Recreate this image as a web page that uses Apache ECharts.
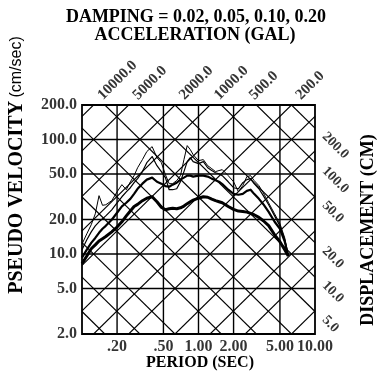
<!DOCTYPE html>
<html>
<head>
<meta charset="utf-8">
<script src="https://cdn.jsdelivr.net/npm/echarts@6/dist/echarts.min.js"></script>
<style>
  html, body { margin: 0; padding: 0; background: #fff; }
  #chart { width: 380px; height: 371px; }
</style>
</head>
<body>
<div id="chart"></div>
<script>
// periods (sec) at which the spectrum was read
const periods = [0.10, 0.11, 0.12, 0.13, 0.14, 0.15, 0.16, 0.18, 0.20, 0.22, 0.24, 0.26, 0.28, 0.30,
  0.33, 0.36, 0.40, 0.44, 0.48, 0.52, 0.56, 0.60, 0.65, 0.70, 0.75, 0.80, 0.85, 0.90,
  1.0, 1.1, 1.2, 1.3, 1.4, 1.5, 1.6, 1.8, 2.0, 2.2, 2.4, 2.6, 2.8, 3.0, 3.3, 3.6,
  4.0, 4.5, 5.0, 5.5, 5.9];
// pseudo velocity (cm/sec), one list per damping
const damp002 = [12.2, 15.0, 18.0, 22.4, 32.3, 26.6, 26.9, 29.2, 34.9, 40.3, 36.4, 42.7, 48.3, 56.6,
  66.7, 78.4, 86.6, 69.4, 62.7, 49.3, 41.1, 41.1, 43.8, 48.3, 66.7, 88.4, 81.6, 73.7,
  65.3, 66.7, 59.0, 55.6, 52.4, 53.5, 54.5, 48.3, 42.7, 34.9, 39.5, 47.4, 48.3, 43.8, 39.5, 34.2,
  28.0, 22.4, 18.4, 13.8, 9.6];
const damp005 = [10.9, 13.3, 15.6, 17.6, 19.1, 20.3, 21.5, 24.3, 28.0, 31.6, 34.9, 37.9, 41.9, 45.5,
  52.4, 62.7, 70.9, 59.0, 52.4, 46.4, 36.4, 36.4, 37.1, 42.7, 52.4, 64.0, 69.4, 64.0,
  61.5, 64.0, 56.6, 53.5, 51.2, 50.2, 48.3, 42.7, 37.9, 37.1, 41.9, 44.6, 45.5, 41.1, 37.1, 32.3,
  26.9, 21.5, 17.6, 13.3, 9.6];
const damp010 = [9.3, 10.9, 12.5, 13.8, 15.3, 16.6, 17.6, 19.9, 22.9, 26.0, 28.0, 30.3, 33.5, 37.1,
  41.1, 44.6, 46.4, 42.7, 41.1, 39.1, 38.7, 40.3, 41.9, 44.6, 46.4, 48.3, 48.3, 47.4,
  48.3, 48.3, 47.4, 45.5, 44.1, 42.8, 40.7, 36.4, 33.5, 32.9, 33.5, 35.6, 36.4, 33.5, 30.3, 27.2,
  23.3, 19.1, 16.6, 12.8, 9.6];
const damp020 = [8.2, 9.6, 11.1, 12.0, 13.0, 13.6, 14.2, 15.6, 17.2, 19.1, 21.5, 23.7, 26.0, 27.1,
  29.2, 30.7, 31.6, 28.6, 25.6, 24.3, 24.8, 25.1, 24.8, 25.3, 26.2, 27.5, 28.6, 29.5,
  30.7, 31.6, 31.3, 30.1, 29.2, 28.6, 28.0, 26.0, 24.5, 23.7, 23.5, 23.2, 22.6, 22.0, 20.9, 19.5,
  17.7, 14.7, 12.8, 10.9, 9.6];

const periodTicks = [0.2, 0.5, 1, 2, 5, 10];
const velocityTicks = [2, 5, 10, 20, 50, 100, 200];
const accelLines = [2, 5, 10, 20, 50, 100, 200, 500, 1000, 2000, 5000, 10000]; // gal
const dispLines = [0.05, 0.1, 0.2, 0.5, 1, 2, 5, 10, 20, 50, 100, 200];       // cm
const accelLabels = [10000, 5000, 2000, 1000, 500, 200];
const dispLabels = [200, 100, 50, 20, 10, 5];

const TMIN = 0.1, TMAX = 10, VMIN = 2, VMAX = 200;
const TWO_PI = 2 * Math.PI;
const serif = '"Liberation Serif", "DejaVu Serif", serif';

var chartDom = document.getElementById('chart');
var myChart = echarts.init(chartDom, null, { renderer: 'canvas', devicePixelRatio: 1 });

const gridLine = (data, width) => ({
  type: 'line',
  data: data,
  symbol: 'none',
  silent: true,
  clip: true,
  lineStyle: { color: '#000', width: width }
});

var series = [];
// vertical / horizontal grid
periodTicks.filter(t => t < TMAX).forEach(t => series.push(gridLine([[t, VMIN], [t, VMAX]], 1.4)));
velocityTicks.filter(v => v > VMIN && v < VMAX).forEach(v => series.push(gridLine([[TMIN, v], [TMAX, v]], 1.4)));
// acceleration lines  V = A T / 2pi
accelLines.forEach(a => series.push(gridLine([[TMIN, a * TMIN / TWO_PI], [TMAX, a * TMAX / TWO_PI]], 1.2)));
// displacement lines  V = 2pi D / T
dispLines.forEach(d => series.push(gridLine([[TMIN, TWO_PI * d / TMIN], [TMAX, TWO_PI * d / TMAX]], 1.2)));

// spectra
[[damp002, 1], [damp005, 1.2], [damp010, 2.2], [damp020, 3]].forEach(([vals, w]) => {
  series.push({
    type: 'line',
    data: periods.map((t, i) => [t, vals[i]]),
    symbol: 'none',
    silent: true,
    lineStyle: { color: '#000', width: w, join: 'round' }
  });
});

const labelSeries = (data, label) => ({
  type: 'scatter',
  data: data,
  symbolSize: 0,
  silent: true,
  clip: false,
  label: Object.assign({ show: true, color: '#000', fontFamily: serif, fontWeight: 'bold' }, label)
});

series.push(labelSeries(velocityTicks.map(v => [TMIN, v]), {
  position: 'left', distance: 5, fontSize: 16,
  formatter: p => p.value[1].toFixed(1)
}));
series.push(labelSeries(periodTicks.map(t => [t, VMIN]), {
  position: 'bottom', distance: 5, fontSize: 16,
  formatter: p => (p.value[0] < 1 ? p.value[0].toFixed(2).slice(1) : p.value[0].toFixed(2))
}));
series.push(labelSeries(accelLabels.map(a => [TWO_PI * VMAX / a, VMAX, a]), {
  position: 'inside', align: 'left', verticalAlign: 'bottom', rotate: 45,
  offset: [10, 7], fontSize: 15,
  formatter: p => p.value[2].toFixed(1)
}));
series.push(labelSeries(dispLabels.map(d => [TMAX, TWO_PI * d / TMAX, d]), {
  position: 'inside', align: 'left', verticalAlign: 'top', rotate: -45,
  offset: [11, -9], fontSize: 14,
  formatter: p => p.value[2].toFixed(1)
}));

var option = {
  animation: false,
  backgroundColor: '#fff',
  grid: {
    left: 82, right: 65, top: 105, bottom: 37,
    show: true, borderColor: '#000', borderWidth: 1.8
  },
  xAxis: {
    type: 'log', logBase: 10, min: TMIN, max: TMAX,
    axisLine: { show: false }, axisTick: { show: false },
    axisLabel: { show: false }, splitLine: { show: false }
  },
  yAxis: {
    type: 'log', logBase: 10, min: VMIN, max: VMAX,
    axisLine: { show: false }, axisTick: { show: false },
    axisLabel: { show: false }, splitLine: { show: false }
  },
  graphic: [
    {
      type: 'text', x: 196, y: 17,
      style: { text: 'DAMPING = 0.02, 0.05, 0.10, 0.20', font: 'bold 18px ' + serif, fill: '#000', align: 'center', verticalAlign: 'middle' }
    },
    {
      type: 'text', x: 195, y: 35,
      style: { text: 'ACCELERATION (GAL)', font: 'bold 18px ' + serif, fill: '#000', align: 'center', verticalAlign: 'middle' }
    },
    {
      type: 'text', x: 200, y: 363,
      style: { text: 'PERIOD (SEC)', font: 'bold 16px ' + serif, fill: '#000', align: 'center', verticalAlign: 'middle' }
    },
    {
      type: 'text', x: 17, y: 165, rotation: Math.PI / 2,
      style: {
        text: '{b|PSEUDO VELOCITY} {s|(cm/sec)}',
        align: 'center', verticalAlign: 'middle', fill: '#000',
        rich: {
          b: { fontFamily: serif, fontWeight: 'bold', fontSize: 20, fill: '#000' },
          s: { fontFamily: '"Liberation Sans", Arial, sans-serif', fontSize: 16, fill: '#000' }
        }
      }
    },
    {
      type: 'text', x: 368, y: 230, rotation: Math.PI / 2,
      style: { text: 'DISPLACEMENT (CM)', font: 'bold 18px ' + serif, fill: '#000', align: 'center', verticalAlign: 'middle' }
    }
  ],
  series: series
};

option && myChart.setOption(option);
</script>
</body>
</html>
